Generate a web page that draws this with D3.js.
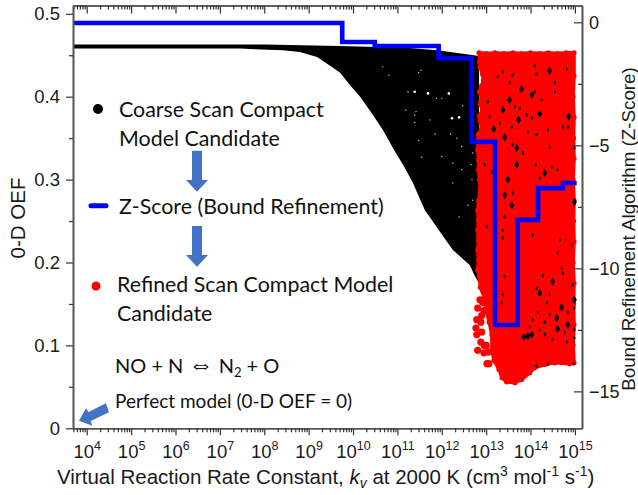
<!DOCTYPE html>
<html><head><meta charset="utf-8">
<script src="https://cdn.jsdelivr.net/npm/d3@7/dist/d3.min.js"></script>
<style>html,body{margin:0;padding:0;background:#fff}svg{display:block}</style>
</head><body><svg id="c" width="638" height="495"></svg>
<script>
// ---- data: log10(k), 0-D OEF / Z-score
const decades=[4,5,6,7,8,9,10,11,12,13,14,15];
const oefTicks=[0,0.1,0.2,0.3,0.4,0.5];
const oefMinor=[0.05,0.15,0.25,0.35,0.45];
const zTicks=[0,-5,-10,-15];
const zMinor=[-2.5,-7.5,-12.5];
const zEdges=[3.69,9.757,10.49,11.93,12.67,13.2,13.71,14.17,14.73,15.04];
const zValues=[-0.03,-0.8,-0.96,-1.46,-4.86,-12.3,-8.03,-6.74,-6.53,-6.53];
const coarseTop=[[3.69,.463],[8,.463],[9.7,.461],[11.2,.459],[11.9,.456],[12.84,.449]];
const coarseBottom=[[3.69,.458],[7.45,.458],[8.42,.456],[8.8,.454],[9.19,.448],[9.55,.435],[9.71,.429],[9.93,.414],[10.16,.4],[10.45,.378],[10.67,.36],[10.9,.338],[11.17,.314],[11.35,.296],[11.62,.263],[11.96,.237],[12.25,.215],[12.63,.197],[12.75,.183],[12.84,.175]];
const refinedEdge=[[12.84,.453],[12.87,.449],[12.85,.442],[12.87,.435],[12.92,.427],[12.94,.42],[12.9,.413],[12.85,.406],[12.9,.398],[12.87,.391],[12.92,.384],[12.85,.377],[12.87,.37],[12.9,.362],[12.83,.355],[12.81,.348],[12.81,.336],[12.83,.324],[12.83,.312],[12.85,.3],[12.87,.288],[12.83,.275],[12.81,.263],[12.83,.251],[12.81,.239],[12.83,.227],[12.81,.215],[12.83,.203],[12.81,.191],[12.85,.183],[12.87,.17],[12.96,.158],[13.0,.143],[13.07,.128],[13.13,.113],[13.13,.094],[13.18,.082],[13.29,.071],[13.36,.061],[13.46,.056],[13.65,.055],[13.8,.059],[13.98,.067],[14.09,.073],[14.32,.077],[14.54,.079],[14.88,.078],[14.98,.079],[14.96,.1],[14.98,.125],[14.97,.15],[14.98,.175],[14.96,.2],[14.98,.225],[14.97,.25],[14.98,.275],[14.96,.3],[14.98,.325],[14.97,.35],[14.98,.375],[14.96,.4],[14.98,.425],[14.98,.453],[14.8,.453],[14.6,.452],[14.4,.453],[14.2,.452],[14,.453],[13.8,.452],[13.6,.453],[13.4,.452],[13.2,.453],[13,.452]];
const refinedBlobs=[[12.86,.155],[12.92,.152],[12.81,.145],[12.95,.142],[12.9,.136],[12.79,.131],[12.88,.128],[12.77,.121],[12.9,.116],[12.79,.113],[12.88,.104],[12.96,.1],[12.81,.094],[12.95,.091],[13.05,.092],[13,.1],[13.02,.078],[13.06,.078]];
const holesLarge=[[14.21,.379],[13.53,.396],[13.38,.384],[14.03,.402],[13.8,.409],[14.43,.431],[13.73,.372],[14.86,.376],[13.17,.361],[13.42,.351],[13.69,.338],[14.32,.308],[13.49,.3],[13.42,.281],[13.58,.269],[13.69,.318],[14.99,.273],[14.5,.177],[14.21,.163],[14.7,.146],[14.59,.133],[14.99,.155],[13.94,.111],[14.03,.113],[13.85,.11],[14.61,.12],[14.84,.125]];
const holesSmall=[[14.1,.437],[13.38,.43],[13.6,.426],[13.26,.424],[13.53,.417],[14.14,.427],[14.55,.417],[14.82,.433],[13.76,.386],[13.65,.388],[14.25,.396],[14.1,.406],[13.04,.394],[13.92,.378],[14.03,.374],[13.31,.368],[14.39,.36],[13.94,.357],[14.73,.363],[14.84,.363],[13.08,.376],[13.58,.363],[14.55,.406],[13.6,.342],[14.43,.339],[13.83,.332],[14.99,.338],[14.14,.354],[14.12,.318],[14.61,.312],[13.42,.255],[13.6,.284],[13.38,.239],[14.66,.227],[14.61,.212],[14.05,.233],[14.93,.221],[13.02,.243],[12.97,.318],[13.13,.309],[14.21,.302],[14.7,.193],[14.48,.315],[13.38,.23],[14.28,.184],[14.73,.187],[14.14,.169],[14.95,.173],[14.43,.161],[14.37,.151],[14.16,.14],[14.43,.137],[14.05,.131],[14.32,.128],[13.98,.122],[14.21,.119],[14.77,.116],[14.99,.119],[14.99,.109],[14.32,.113],[14.5,.107],[14.39,.078],[14.97,.078],[14.14,.075],[14.82,.104],[13.42,.183],[13.38,.161],[13.35,.151],[14.84,.14],[14.99,.145]];
const specksLarge=[[12.23,.374],[12.39,.375],[11.39,.406],[11.69,.404],[12.16,.404]];
const specksSmall=[[12,.398],[11.88,.398],[11.48,.347],[12,.328],[12.45,.34],[12.34,.35],[12.2,.355],[12.25,.32],[12.45,.312],[12.25,.296],[11.42,.382],[12.7,.332],[11.53,.432],[12.47,.389],[11.85,.355],[10.81,.426],[10.67,.436],[11.48,.429],[11.19,.384],[11.39,.378],[11.39,.369],[11.73,.372],[11.55,.327],[11.24,.406],[12.68,.3],[12.7,.275],[12.66,.318],[12.59,.269],[12.39,.255]];
const legendLines=["Coarse Scan Compact","Model Candidate","Z-Score (Bound Refinement)","Refined Scan Compact Model","Candidate"];

// ---- layout
const L=73,R=582,T=5.5,B=428.3;
const svg=d3.select("#c");
const xs=d3.scaleLog().domain([10**3.69,10**15.16]).range([L,R]);
const X=v=>xs(10**v);
const yL=d3.scaleLinear().domain([0,.51]).range([B,T]);
const yR=d3.scaleLinear().domain([-16.5,.683]).range([B,T]);
const P=d=>[X(d[0]),yL(d[1])];
const axisFont="'Liberation Sans',Arial,sans-serif", noteFont="Lato,'Open Sans',sans-serif";
const axisCol="#555", ink="#1a1a1a";

// marks
const area=d3.line().curve(d3.curveLinearClosed);
const dots=(data,r,fill)=>svg.append("g").selectAll("circle").data(data).join("circle").attr("cx",d=>X(d[0])).attr("cy",d=>yL(d[1])).attr("r",r).attr("fill",fill);
const syms=(data,type,size,fill)=>svg.append("g").selectAll("path").data(data).join("path").attr("transform",d=>`translate(${X(d[0])},${yL(d[1])})`).attr("d",d3.symbol().type(type).size(size)()).attr("fill",fill);
svg.append("path").attr("d",area(coarseTop.concat(coarseBottom.slice().reverse()).map(P))).attr("fill","#000");
dots(specksLarge,1.3,"#fff");
dots(specksSmall,.7,"#ddd");
svg.append("path").attr("d",area(refinedEdge.map(P))).attr("fill","#ff0000").attr("stroke","#ff0000").attr("stroke-width",3.6).attr("stroke-linejoin","round");
dots(refinedEdge,2.6,"#ff0000");
dots(refinedBlobs,3.6,"#ff0000");
syms(holesLarge,d3.symbolDiamond,20,"#000");
syms(holesSmall,d3.symbolDiamond,6,"#000");
svg.append("path").datum(zEdges.map((e,i)=>[X(e),yR(zValues[i])]))
  .attr("d",d3.line().curve(d3.curveStepAfter)).attr("fill","none").attr("stroke","#0000ff").attr("stroke-width",4.6).attr("stroke-linejoin","miter");

// axes
const minors=[];
decades.concat([3]).forEach(d=>{for(let m=2;m<=9;m++){const v=m*10**d;if(v>=xs.domain()[0]&&v<=xs.domain()[1])minors.push(v);}});
const majors=decades.map(d=>10**d);
function style(g){g.selectAll("path.domain").attr("stroke",axisCol).attr("stroke-width",1.6);g.selectAll("line").attr("stroke","#333").attr("stroke-width",1.2);}
const bot=svg.append("g").attr("transform",`translate(0,${B})`).call(d3.axisBottom(xs).tickValues(majors).tickSize(7).tickSizeOuter(0).tickPadding(10).tickFormat(""));
style(bot);
bot.selectAll(".tick text").each(function(v){const t=d3.select(this).text(null).attr("font-family",axisFont).attr("font-size",18.5).attr("fill",ink);
  t.append("tspan").text("10");t.append("tspan").attr("dy",-8).attr("font-size",12.5).text(Math.round(Math.log10(v)));});
style(svg.append("g").attr("transform",`translate(0,${B})`).call(d3.axisBottom(xs).tickValues(minors).tickSize(4).tickSizeOuter(0).tickFormat("")));
style(svg.append("g").attr("transform",`translate(0,${T})`).call(d3.axisBottom(xs).tickValues(majors).tickSize(8).tickSizeOuter(0).tickFormat("")));
style(svg.append("g").attr("transform",`translate(0,${T})`).call(d3.axisBottom(xs).tickValues(minors).tickSize(4).tickSizeOuter(0).tickFormat("")));
const left=svg.append("g").attr("transform",`translate(${L},0)`).call(d3.axisLeft(yL).tickValues(oefTicks).tickSize(7).tickSizeOuter(0).tickPadding(6).tickFormat(d=>d===0?"0":d3.format(".1f")(d)));
style(left);left.selectAll("text").attr("font-family",axisFont).attr("font-size",18.5).attr("fill",ink);
style(svg.append("g").attr("transform",`translate(${L},0)`).call(d3.axisLeft(yL).tickValues(oefMinor).tickSize(4).tickSizeOuter(0).tickFormat("")));
const right=svg.append("g").attr("transform",`translate(${R},0)`).call(d3.axisLeft(yR).tickValues(zTicks).tickSize(8).tickSizeOuter(0).tickFormat(d3.format("d")));
style(right);
right.selectAll("text").attr("font-family",axisFont).attr("font-size",18).attr("fill",ink).attr("text-anchor","start").attr("x",7);
style(svg.append("g").attr("transform",`translate(${R},0)`).call(d3.axisLeft(yR).tickValues(zMinor).tickSize(4).tickSizeOuter(0).tickFormat("")));

// axis titles
const xt=svg.append("text").attr("x",57).attr("y",484).attr("font-family",axisFont).attr("font-size",20.5).attr("fill",ink);
xt.append("tspan").text("Virtual Reaction Rate Constant, ");
xt.append("tspan").attr("font-style","italic").text("k");
xt.append("tspan").attr("font-style","italic").attr("font-size",14).attr("dy",4).text("v");
xt.append("tspan").attr("dy",-4).text(" at 2000 K (cm");
xt.append("tspan").attr("font-size",14).attr("dy",-8).text("3");
xt.append("tspan").attr("dy",8).text(" mol");
xt.append("tspan").attr("font-size",14).attr("dy",-8).text("-1");
xt.append("tspan").attr("dy",8).text(" s");
xt.append("tspan").attr("font-size",14).attr("dy",-8).text("-1");
xt.append("tspan").attr("dy",8).text(")");
svg.append("text").attr("transform","translate(25,218) rotate(-90)").attr("text-anchor","middle").attr("font-family",axisFont).attr("font-size",20.5).attr("fill",ink).text("0-D OEF");
svg.append("text").attr("transform","translate(635,229) rotate(-90)").attr("text-anchor","middle").attr("font-family",axisFont).attr("font-size",18.8).attr("fill",ink).text("Bound Refinement Algorithm (Z-Score)");

// annotations
const note=(x,y,s,fs)=>svg.append("text").attr("x",x).attr("y",y).attr("font-family",noteFont).attr("font-size",fs).attr("fill","#111").text(s);
note(119,117,legendLines[0],21.4);
note(119,146,legendLines[1],21.4);
note(119,214,legendLines[2],21.4);
note(117,292,legendLines[3],21.4);
note(117,321,legendLines[4],21.4);
const eq=note(115,373,"NO + N ",20);
eq.append("tspan").attr("font-size",25).text("⇔");
eq.append("tspan").text(" N");
eq.append("tspan").attr("font-size",13).attr("dy",4).text("2");
eq.append("tspan").attr("dy",-4).text(" + O");
note(115,408,"Perfect model (0-D OEF = 0)",19);
svg.append("circle").attr("cx",98).attr("cy",109).attr("r",5).attr("fill","#000");
svg.append("line").attr("x1",91).attr("x2",106).attr("y1",205.7).attr("y2",205.7).attr("stroke","#0000ff").attr("stroke-width",5).attr("stroke-linecap","round");
svg.append("circle").attr("cx",96).attr("cy",286).attr("r",4.5).attr("fill","#ff0000");
const arrow="#4472c4";
const down=(top,neck,tip)=>svg.append("polygon").attr("fill",arrow).attr("points",[[192,top],[202,top],[202,neck],[208,neck],[197,tip],[186,neck],[192,neck]].join(" "));
down(150.7,180,191.7);
down(226,255,266.7);
svg.append("polygon").attr("fill",arrow).attr("points",[[79,420.7],[86,408.3],[88.5,412],[106,403.3],[109,412.3],[90.7,421],[92.3,425.7]].join(" "));
</script></body></html>
